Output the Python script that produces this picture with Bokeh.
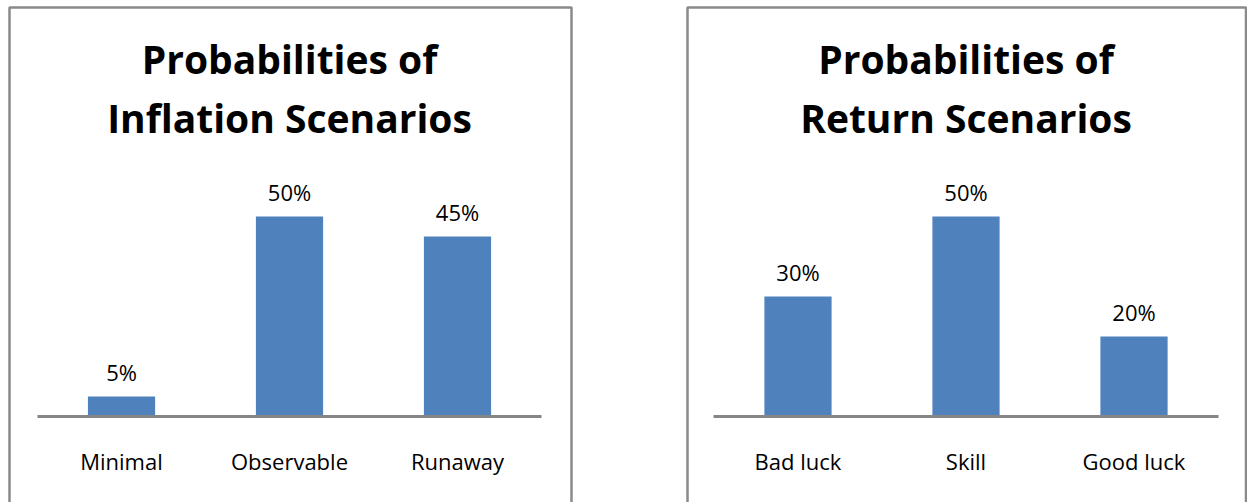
from bokeh.plotting import figure
from bokeh.models import FactorRange, Range1d, ColumnDataSource, BoxAnnotation
from bokeh.layouts import row
from bokeh.embed import file_html
from bokeh.resources import INLINE
from bokeh.core.properties import value

# ---- data ----
inflation_titles = ["Probabilities of", "Inflation Scenarios"]
inflation_cats = ["Minimal", "Observable", "Runaway"]
inflation_vals = [5, 50, 45]

return_titles = ["Probabilities of", "Return Scenarios"]
return_cats = ["Bad luck", "Skill", "Good luck"]
return_vals = [30, 50, 20]

BAR = "#4F81BD"
GREY = "#868686"
BORDER = "#8a8a8a"
FONT = "Open Sans"

Y_TOP, Y_BOT = 103.0, -21.5     # frame from y=4 px to y=502 px, zero at 416 px


def panel(titles, cats, vals, page_x, width, left, right, rp, border_px):
    frame_left = page_x + left
    frame_w = width - left - right
    n = len(cats)
    pad = n * rp / 2.0
    start = -pad
    scale = frame_w / (n + 2 * pad)
    bl = start + (border_px[0] - frame_left) / scale
    br = start + (border_px[1] - frame_left) / scale

    p = figure(
        x_range=FactorRange(*cats, range_padding=rp),
        y_range=Range1d(Y_BOT, Y_TOP),
        width=width, height=502,
        min_border_left=left, min_border_right=right,
        min_border_top=4, min_border_bottom=0,
        output_backend="svg", toolbar_location=None,
    )
    src = ColumnDataSource(dict(
        cat=cats, val=vals, lab=[f"{v}%" for v in vals]))
    p.vbar(x="cat", top="val", bottom=0, width=0.4, source=src,
           fill_color=BAR, line_color=None)
    p.text(x="cat", y="val", text="lab", source=src,
           text_align="center", text_baseline="middle", y_offset=-25,
           text_font=value(FONT), text_font_size="22px", text_color="black")
    mid = cats[1]
    for i, t in enumerate(titles):
        p.text(x=[mid], y=[89.5 - 14.75 * i], text=[t],
               text_align="center", text_baseline="middle",
               text_font=value(FONT), text_font_style="bold",
               text_font_size="39px", text_color="black")
    p.xgrid.visible = False
    p.ygrid.visible = False
    p.yaxis.visible = False
    ax = p.xaxis[0]
    ax.fixed_location = 0
    ax.bounds = (0, 3)
    ax.axis_line_color = GREY
    ax.axis_line_width = 3
    ax.major_tick_line_color = None
    ax.minor_tick_line_color = None
    ax.major_label_standoff = 23
    ax.major_label_text_font = FONT
    ax.major_label_text_font_size = "22px"
    ax.major_label_text_color = "black"
    p.outline_line_color = None
    p.add_layout(BoxAnnotation(left=bl, right=br, top=102.25, bottom=-80,
                               fill_color=None, fill_alpha=0,
                               line_color=BORDER, line_alpha=1.0,
                               line_width=2.5))
    p.background_fill_color = "white"
    p.border_fill_color = "white"
    return p


p1 = panel(inflation_titles, inflation_cats, inflation_vals,
           0, 575, 3, 0, 0.135, (9, 571))
p2 = panel(return_titles, return_cats, return_vals,
           575, 672, 109, 0, 0.117, (687, 1245.5))
layout = row(p1, p2)

open("out.html", "w").write(file_html(layout, INLINE))
